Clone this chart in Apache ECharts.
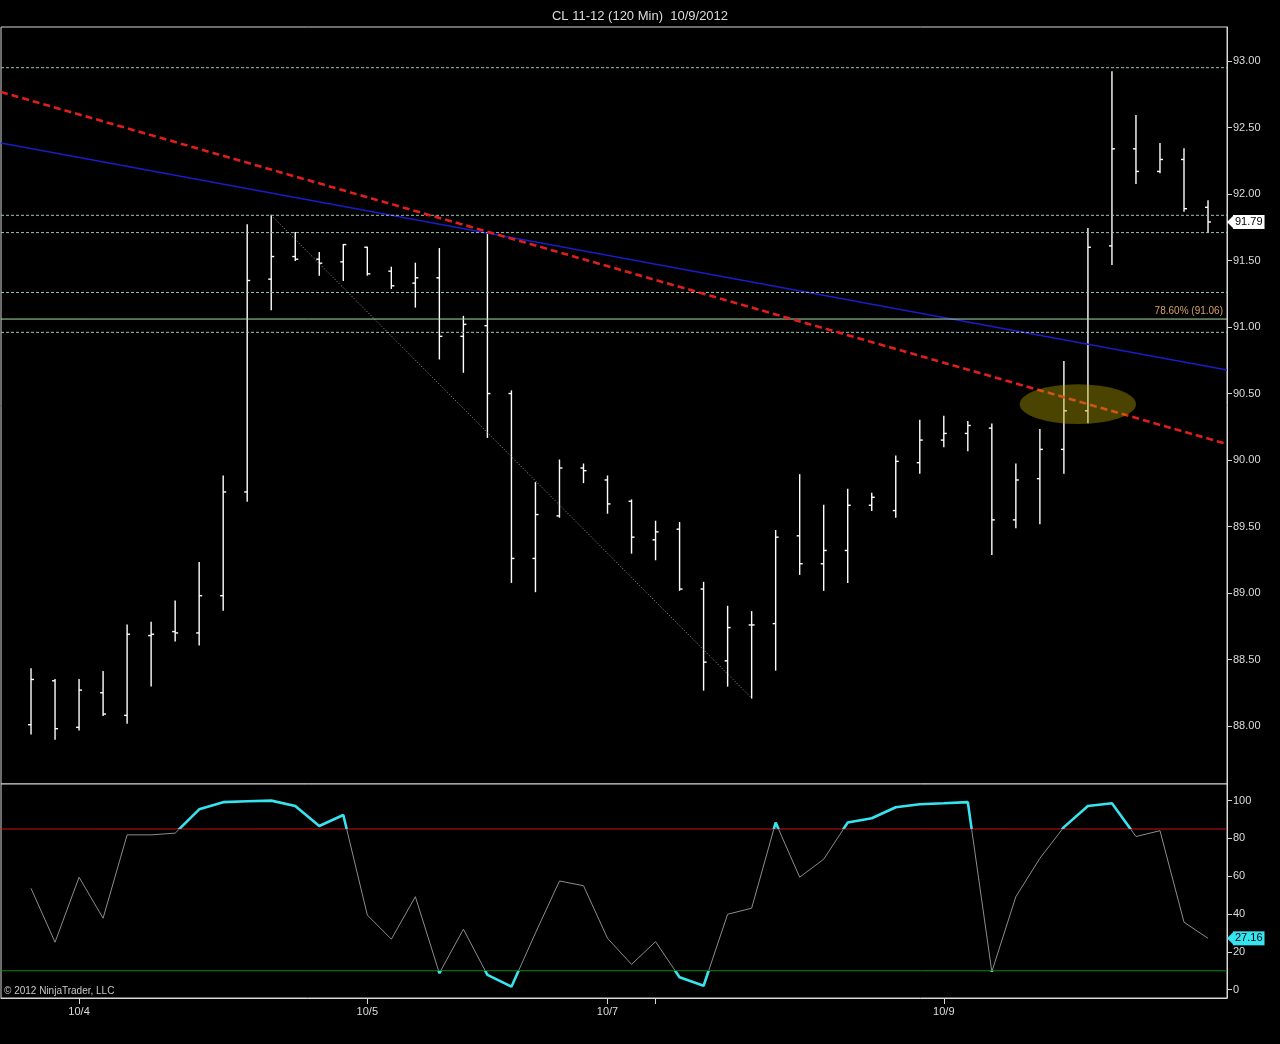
<!DOCTYPE html>
<html>
<head>
<meta charset="utf-8">
<title>CL 11-12 (120 Min) 10/9/2012</title>
<script src="https://cdn.jsdelivr.net/npm/echarts@6/dist/echarts.min.js"></script>
<style>
  html, body { margin: 0; padding: 0; background: #000; }
  #chart { width: 1280px; height: 1044px; }
</style>
</head>
<body>
<div id="chart"></div>
<script>
// 120 min bars, CL 11-12
var opens  = [88.01, 88.34, 87.99, 88.25, 88.08, 88.68, 88.71, 88.70, 88.98, 89.76,
              91.36, 91.53, 91.51, 91.49, 91.60, 91.42, 91.33, 91.37, 90.93, 91.01,
              90.50, 89.26, 89.58, 89.94, 89.85, 89.69, 89.40, 89.48, 89.03, 88.49,
              88.76, 88.77, 89.43, 89.22, 89.32, 89.66, 89.62, 89.98, 90.15, 90.20,
              90.24, 89.55, 89.86, 90.08, 90.37, 91.61, 92.34, 92.17, 92.26, 91.90];
var highs  = [88.43, 88.35, 88.35, 88.41, 88.76, 88.78, 88.94, 89.23, 89.88, 91.77,
              91.84, 91.71, 91.56, 91.62, 91.60, 91.45, 91.48, 91.59, 91.08, 91.70,
              90.52, 89.83, 90.00, 89.97, 89.88, 89.70, 89.54, 89.53, 89.08, 88.90,
              88.86, 89.47, 89.89, 89.66, 89.78, 89.75, 90.03, 90.30, 90.33, 90.29,
              90.27, 89.97, 90.23, 90.74, 91.74, 92.92, 92.59, 92.38, 92.34, 91.95];
var lows   = [87.94, 87.90, 87.97, 88.08, 88.02, 88.30, 88.64, 88.61, 88.87, 89.69,
              91.13, 91.50, 91.39, 91.35, 91.39, 91.29, 91.15, 90.76, 90.66, 90.17,
              89.08, 89.01, 89.57, 89.83, 89.60, 89.30, 89.25, 89.02, 88.27, 88.30,
              88.21, 88.42, 89.14, 89.02, 89.08, 89.62, 89.57, 89.90, 90.10, 90.07,
              89.29, 89.49, 89.52, 89.90, 90.28, 91.47, 92.08, 92.16, 91.87, 91.71];
var closes = [88.35, 87.98, 88.27, 88.09, 88.69, 88.69, 88.70, 88.98, 89.76, 91.35,
              91.53, 91.51, 91.48, 91.62, 91.40, 91.31, 91.37, 90.93, 91.02, 90.50,
              89.26, 89.59, 89.94, 89.92, 89.67, 89.42, 89.46, 89.03, 88.48, 88.74,
              88.76, 89.42, 89.22, 89.32, 89.66, 89.72, 89.99, 90.15, 90.20, 90.26,
              89.55, 89.85, 90.08, 90.37, 91.60, 92.34, 92.17, 92.26, 91.89, 91.79];

// stochastics in the lower panel
var stoch  = [53.6, 25.1, 59.5, 37.8, 81.9, 81.9, 82.8, 95.4, 99.2, 99.7,
              100, 97.2, 86.6, 92.4, 39.5, 26.7, 49.2, 8.7, 32.0, 7.8,
              1.6, 30.0, 57.5, 55.0, 27.2, 13.4, 25.4, 6.6, 2.1, 39.9,
              43.1, 88.4, 59.5, 69.0, 88.4, 90.7, 96.5, 98.1, 98.6, 99.2,
              9.5, 49.2, 69.5, 86.0, 97.2, 98.6, 81.0, 84.1, 35.7, 27.16];

var dayTickIdx    = [2, 14, 24, 26, 38];
var dayTickLabels = ['10/4', '10/5', '10/7', '', '10/9'];
var priceTicks    = [88, 88.5, 89, 89.5, 90, 90.5, 91, 91.5, 92, 92.5, 93];
var stochTicks    = [0, 20, 40, 60, 80, 100];

// drawing tools on the price panel
var levels      = [92.95, 91.84, 91.71, 91.26, 90.96];
var fibLevel    = 91.06;
var redTrend    = [[-1.25, 92.767], [49.79, 90.12]];
var blueTrend   = [[-1.25, 92.383], [49.79, 90.677]];
var dottedTrend = [[10, 91.84], [30, 88.21]];
var zone        = [[43.58, 90.42, 2.42, 0.15]]; // center x, center price, half width, half height
var lastPrice   = 91.79;
var obLevel = 85, osLevel = 10;

var X_MIN = -1.25, X_MAX = 49.79;
var txt = '#dcdcdc';
var font = 'Liberation Sans';
var cyan = '#36e4f0';

var ohlcData = opens.map(function (o, i) { return [i, o, highs[i], lows[i], closes[i]]; });
var stochData = stoch.map(function (v, i) { return [i, v]; });

function renderOhlc(params, api) {
  var x = api.value(0);
  var o = api.coord([x, api.value(1)]);
  var h = api.coord([x, api.value(2)]);
  var l = api.coord([x, api.value(3)]);
  var c = api.coord([x, api.value(4)]);
  var st = { stroke: '#fff', lineWidth: 1.4 };
  return {
    type: 'group',
    children: [
      { type: 'line', shape: { x1: h[0], y1: h[1] - 0.5, x2: l[0], y2: l[1] + 0.5 }, style: st },
      { type: 'line', shape: { x1: o[0] - 3, y1: o[1], x2: o[0], y2: o[1] }, style: st },
      { type: 'line', shape: { x1: c[0], y1: c[1], x2: c[0] + 3, y2: c[1] }, style: st }
    ]
  };
}

function renderZone(params, api) {
  var c = api.coord([api.value(0), api.value(1)]);
  var s = api.size([api.value(2), api.value(3)]);
  return {
    type: 'circle',
    x: c[0], y: c[1],
    scaleY: s[1] / s[0],
    shape: { cx: 0, cy: 0, r: s[0] },
    style: { fill: 'rgba(185,170,0,0.40)' }
  };
}

// a full-width horizontal line drawn as a 2-point line series
function hLine(panel, value, lineStyle, extra) {
  var s = {
    type: 'line', xAxisIndex: panel, yAxisIndex: panel, symbol: 'none', silent: true, z: 3,
    data: [[X_MIN, value], [X_MAX, value]],
    lineStyle: lineStyle
  };
  for (var k in extra) s[k] = extra[k];
  return s;
}

function priceTag(panel, value, bg) {
  return hLine(panel, value, { width: 0, color: 'rgba(0,0,0,0)' }, {
    z: 8,
    endLabel: {
      show: true, formatter: value.toFixed(2), distance: 6,
      color: '#000', backgroundColor: bg, padding: [2, 2, 1, 2], fontSize: 11, fontFamily: font
    },
    markPoint: {
      silent: true, symbol: 'triangle', symbolRotate: 90, symbolSize: [12, 6], symbolOffset: [3, 0],
      itemStyle: { color: bg }, label: { show: false },
      data: [{ coord: [X_MAX, value] }]
    }
  });
}

var myChart = echarts.init(document.getElementById('chart'));

var series = [
  {
    name: 'CL', type: 'custom', xAxisIndex: 0, yAxisIndex: 0, z: 2,
    renderItem: renderOhlc, encode: { x: 0, y: [1, 2, 3, 4] }, data: ohlcData
  },
  {
    type: 'line', xAxisIndex: 0, yAxisIndex: 0, data: blueTrend, symbol: 'none', z: 3,
    lineStyle: { color: '#1c1cc8', width: 1.5 }
  },
  {
    type: 'line', xAxisIndex: 0, yAxisIndex: 0, data: redTrend, symbol: 'none', z: 4,
    lineStyle: { color: '#e01e1e', width: 2.6, type: [7, 4] }
  },
  {
    type: 'line', xAxisIndex: 0, yAxisIndex: 0, data: dottedTrend, symbol: 'none', z: 3,
    lineStyle: { color: '#a0a0a0', width: 1, type: [1, 2] }
  },
  {
    type: 'custom', xAxisIndex: 0, yAxisIndex: 0, z: 6, renderItem: renderZone,
    encode: { x: 0, y: 1 }, data: zone, silent: true
  },
  {
    type: 'line', xAxisIndex: 1, yAxisIndex: 1, data: stochData, symbol: 'none', z: 3,
    lineStyle: { color: '#8c8c8c', width: 1 }
  },
  {
    type: 'line', xAxisIndex: 1, yAxisIndex: 1, data: stochData, symbol: 'none', z: 4,
    lineStyle: { width: 2.6 }
  }
];

levels.forEach(function (v) {
  series.push(hLine(0, v, { color: '#96c8b0', type: [3, 2], width: 1 }));
});
series.push(hLine(0, fibLevel, { color: '#a8dca8', width: 1 }, {
  endLabel: {
    show: true, formatter: '78.60% (' + fibLevel.toFixed(2) + ')',
    color: '#d6a060', fontSize: 10, fontFamily: font, align: 'right', offset: [-4, -8], distance: 0
  }
}));
series.push(hLine(1, obLevel, { color: '#c81414', width: 1 }));
series.push(hLine(1, osLevel, { color: '#0a8a1a', width: 1 }));
series.push(priceTag(0, lastPrice, '#ffffff'));
series.push(priceTag(1, stoch[stoch.length - 1], cyan));

var option = {
  backgroundColor: '#000',
  animation: false,
  title: {
    text: 'CL 11-12 (120 Min)  10/9/2012',
    left: 635, top: 5, textAlign: 'center',
    textStyle: { color: txt, fontSize: 13, fontWeight: 'normal', fontFamily: font }
  },
  graphic: [{
    type: 'text', left: 4, top: 986, z: 10,
    style: { text: '\u00a9 2012 NinjaTrader, LLC', fill: '#c8c8c8', font: '10px "Liberation Sans"' }
  }],
  grid: [
    { left: 1, right: 53, top: 27, height: 757, show: true, borderColor: '#d8d8d8', borderWidth: 1, backgroundColor: '#000' },
    { left: 1, right: 53, top: 784, height: 214, show: true, borderColor: '#d8d8d8', borderWidth: 1, backgroundColor: '#000' }
  ],
  xAxis: [
    { type: 'value', gridIndex: 0, min: X_MIN, max: X_MAX, show: false, splitLine: { show: false } },
    {
      type: 'value', gridIndex: 1, min: X_MIN, max: X_MAX, position: 'bottom',
      splitLine: { show: false },
      axisLine: { show: true, onZero: false, lineStyle: { color: '#d8d8d8' } },
      axisTick: { show: true, customValues: dayTickIdx, length: 6, lineStyle: { color: '#d8d8d8' } },
      axisLabel: {
        customValues: dayTickIdx, color: txt, fontSize: 11, fontFamily: font, margin: 8,
        formatter: function (v) { var k = dayTickIdx.indexOf(Math.round(v)); return k >= 0 ? dayTickLabels[k] : ''; }
      }
    }
  ],
  yAxis: [
    {
      type: 'value', gridIndex: 0, position: 'right', min: 87.564, max: 93.256,
      splitLine: { show: false },
      axisLine: { show: true, onZero: false, lineStyle: { color: '#d8d8d8' } },
      axisTick: { show: true, customValues: priceTicks, length: 5, lineStyle: { color: '#d8d8d8' } },
      axisLabel: {
        customValues: priceTicks, color: txt, fontSize: 11, fontFamily: font, margin: 6,
        formatter: function (v) { return v.toFixed(2); }
      }
    },
    {
      type: 'value', gridIndex: 1, position: 'right', min: -4.4, max: 108.8,
      splitLine: { show: false },
      axisLine: { show: true, onZero: false, lineStyle: { color: '#d8d8d8' } },
      axisTick: { show: true, customValues: stochTicks, length: 5, lineStyle: { color: '#d8d8d8' } },
      axisLabel: { customValues: stochTicks, color: txt, fontSize: 11, fontFamily: font, margin: 6 }
    }
  ],
  visualMap: {
    show: false, type: 'piecewise', seriesIndex: 6, dimension: 1,
    pieces: [
      { lt: osLevel, color: cyan },
      { gte: osLevel, lte: obLevel, color: 'rgba(0,0,0,0)' },
      { gt: obLevel, color: cyan }
    ]
  },
  series: series
};

myChart.setOption(option);
</script>
</body>
</html>
